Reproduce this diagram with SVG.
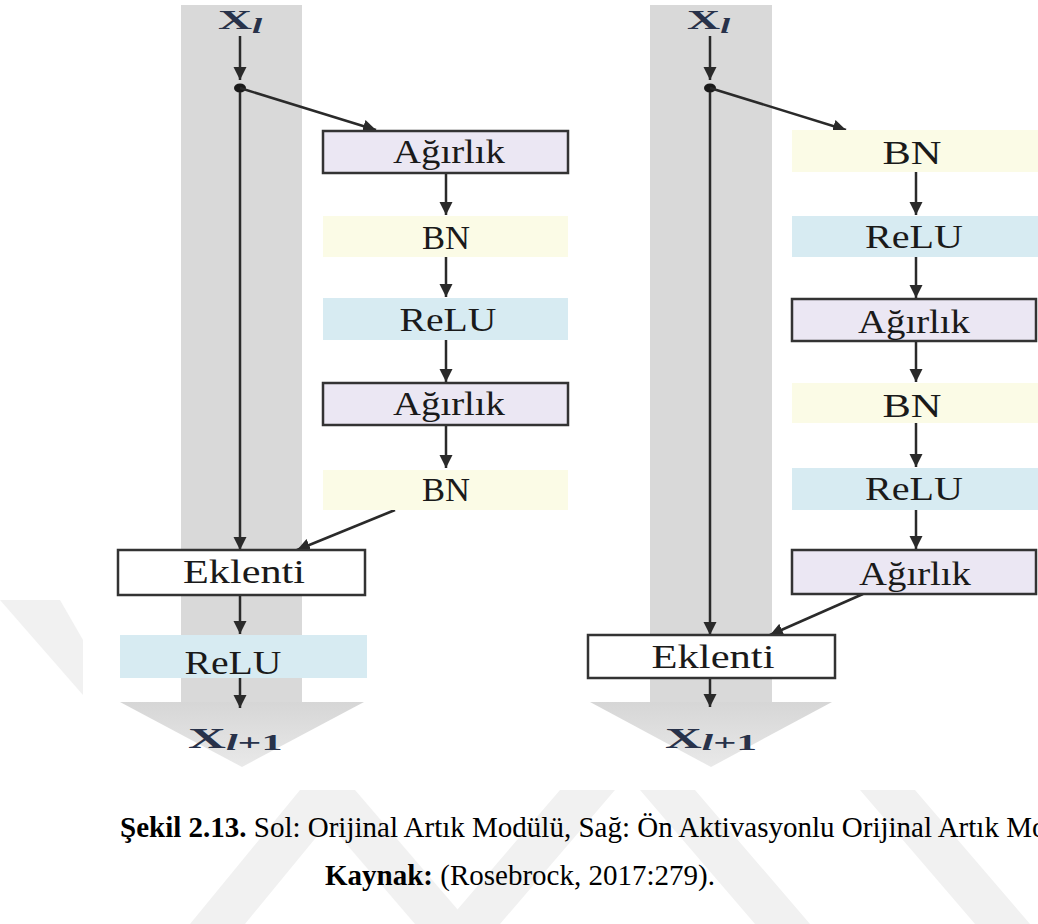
<svg xmlns="http://www.w3.org/2000/svg" width="1038" height="924" viewBox="0 0 1038 924">
<style>
.band{fill:#d9d9d9}
.wm{fill:#f1f1f1}
.w{fill:#ebe7f3;stroke:#333;stroke-width:2.5}
.bn{fill:#fbfbe6}
.re{fill:#d7ebf2}
.ek{fill:#ffffff;stroke:#333;stroke-width:2.5}
.lbl{font-family:"Liberation Serif","Times New Roman",serif;font-size:33px;fill:#1a1a1a;text-anchor:middle}
.con{stroke:#2a2a2a;stroke-width:2.5;fill:none}
.xl{font-family:"Liberation Serif","Times New Roman",serif;fill:#28324a}
.cap{font-family:"Liberation Serif","Times New Roman",serif;font-size:29px;fill:#000}
</style>
<defs>
<marker id="ah" markerUnits="userSpaceOnUse" markerWidth="14" markerHeight="14" refX="13" refY="7" orient="auto">
<path d="M0,0.5 L13,7 L0,13.5 z" fill="#2a2a2a"/>
</marker>
<linearGradient id="tri" x1="0" y1="0" x2="0" y2="1">
<stop offset="0" stop-color="#d6d6d6"/>
<stop offset="1" stop-color="#e9e9e9"/>
</linearGradient>
</defs>
<rect width="1038" height="924" fill="#ffffff"/>
<g id="watermark">
<polygon class="wm" points="0,600 60,600 83,640 83,695"/>
<polygon class="wm" points="190,924 245,924 355,790 300,790"/>
<polygon class="wm" points="300,790 355,790 470,924 415,924"/>
<polygon class="wm" points="560,790 615,790 500,924 445,924"/>
<polygon class="wm" points="640,790 695,790 810,924 755,924"/>
<polygon class="wm" points="860,790 915,790 1030,924 975,924"/>
</g>
<g id="bands">
<rect class="band" x="181" y="5" width="121" height="697"/>
<polygon points="120,702 364,702 242,767" fill="url(#tri)"/>
<rect class="band" x="650" y="5" width="122" height="697"/>
<polygon points="590,702 832,702 711,767" fill="url(#tri)"/>
</g>
<g id="connectors">
<line class="con" x1="240" y1="36" x2="240" y2="80" marker-end="url(#ah)"/>
<ellipse cx="240" cy="88" rx="6" ry="4.5" fill="#1a1a1a"/>
<line class="con" x1="240" y1="88" x2="376" y2="130" marker-end="url(#ah)"/>
<line class="con" x1="240" y1="92" x2="240" y2="550" marker-end="url(#ah)"/>
<line class="con" x1="446" y1="173" x2="446" y2="215" marker-end="url(#ah)"/>
<line class="con" x1="446" y1="257" x2="446" y2="297" marker-end="url(#ah)"/>
<line class="con" x1="446" y1="340" x2="446" y2="382" marker-end="url(#ah)"/>
<line class="con" x1="446" y1="425" x2="446" y2="468" marker-end="url(#ah)"/>
<line class="con" x1="395" y1="510" x2="297" y2="550" marker-end="url(#ah)"/>
<line class="con" x1="240" y1="595" x2="240" y2="634" marker-end="url(#ah)"/>
<line class="con" x1="240" y1="678" x2="240" y2="708" marker-end="url(#ah)"/>
<line class="con" x1="710" y1="36" x2="710" y2="80" marker-end="url(#ah)"/>
<ellipse cx="710" cy="88" rx="6" ry="4.5" fill="#1a1a1a"/>
<line class="con" x1="710" y1="88" x2="846" y2="130" marker-end="url(#ah)"/>
<line class="con" x1="710" y1="92" x2="710" y2="635" marker-end="url(#ah)"/>
<line class="con" x1="916" y1="172" x2="916" y2="215" marker-end="url(#ah)"/>
<line class="con" x1="916" y1="257" x2="916" y2="298" marker-end="url(#ah)"/>
<line class="con" x1="916" y1="341" x2="916" y2="382" marker-end="url(#ah)"/>
<line class="con" x1="916" y1="423" x2="916" y2="467" marker-end="url(#ah)"/>
<line class="con" x1="916" y1="510" x2="916" y2="549" marker-end="url(#ah)"/>
<line class="con" x1="863" y1="594" x2="770" y2="635" marker-end="url(#ah)"/>
<line class="con" x1="710" y1="678" x2="710" y2="707" marker-end="url(#ah)"/>
</g>
<g id="xl-left"><text class="xl" transform="translate(218,29) scale(1.75,1)"><tspan font-weight="bold" font-size="27">X</tspan><tspan font-weight="bold" font-style="italic" font-size="21" dy="4">l</tspan></text></g>
<g id="xl-right"><text class="xl" transform="translate(687,29) scale(1.7,1)"><tspan font-weight="bold" font-size="27">X</tspan><tspan font-weight="bold" font-style="italic" font-size="21" dy="4">l</tspan></text></g>
<g id="left-w1"><rect class="w" x="323" y="131" width="245" height="42"/><text class="lbl" x="449" y="163" textLength="112" lengthAdjust="spacingAndGlyphs">Ağırlık</text></g>
<g id="left-bn1"><rect class="bn" x="323" y="216" width="245" height="41"/><text class="lbl" x="446" y="249" textLength="48" lengthAdjust="spacingAndGlyphs">BN</text></g>
<g id="left-relu1"><rect class="re" x="323" y="298" width="245" height="42"/><text class="lbl" x="448" y="331" textLength="97" lengthAdjust="spacingAndGlyphs">ReLU</text></g>
<g id="left-w2"><rect class="w" x="323" y="383" width="245" height="42"/><text class="lbl" x="449" y="415" textLength="112" lengthAdjust="spacingAndGlyphs">Ağırlık</text></g>
<g id="left-bn2"><rect class="bn" x="323" y="470" width="245" height="40"/><text class="lbl" x="446" y="501" textLength="48" lengthAdjust="spacingAndGlyphs">BN</text></g>
<g id="left-eklenti"><rect class="ek" x="118" y="550" width="247" height="45"/><text class="lbl" x="244" y="583" textLength="122" lengthAdjust="spacingAndGlyphs">Eklenti</text></g>
<g id="left-relu2"><rect class="re" x="120" y="635" width="247" height="43"/><text class="lbl" x="233" y="674" textLength="97" lengthAdjust="spacingAndGlyphs">ReLU</text></g>
<g id="xl1-left"><text class="xl" transform="translate(188,748) scale(1.75,1)"><tspan font-weight="bold" font-size="30">X</tspan><tspan font-weight="bold" font-style="italic" font-size="24" dy="2">l</tspan><tspan font-weight="bold" font-size="24">+1</tspan></text></g>
<g id="right-bn1"><rect class="bn" x="792" y="130" width="246" height="42"/><text class="lbl" x="912" y="164" textLength="59" lengthAdjust="spacingAndGlyphs">BN</text></g>
<g id="right-relu1"><rect class="re" x="792" y="216" width="246" height="41"/><text class="lbl" x="914" y="248" textLength="98" lengthAdjust="spacingAndGlyphs">ReLU</text></g>
<g id="right-w1"><rect class="w" x="792" y="299" width="244" height="42"/><text class="lbl" x="914" y="333" textLength="112" lengthAdjust="spacingAndGlyphs">Ağırlık</text></g>
<g id="right-bn2"><rect class="bn" x="792" y="383" width="246" height="40"/><text class="lbl" x="912" y="417" textLength="59" lengthAdjust="spacingAndGlyphs">BN</text></g>
<g id="right-relu2"><rect class="re" x="792" y="468" width="246" height="42"/><text class="lbl" x="914" y="500" textLength="98" lengthAdjust="spacingAndGlyphs">ReLU</text></g>
<g id="right-w2"><rect class="w" x="792" y="550" width="244" height="44"/><text class="lbl" x="915" y="585" textLength="112" lengthAdjust="spacingAndGlyphs">Ağırlık</text></g>
<g id="right-eklenti"><rect class="ek" x="588" y="635" width="247" height="43"/><text class="lbl" x="713" y="668" textLength="123" lengthAdjust="spacingAndGlyphs">Eklenti</text></g>
<g id="xl1-right"><text class="xl" transform="translate(665,748) scale(1.7,1)"><tspan font-weight="bold" font-size="30">X</tspan><tspan font-weight="bold" font-style="italic" font-size="24" dy="2">l</tspan><tspan font-weight="bold" font-size="24">+1</tspan></text></g>
<g id="caption">
<text class="cap" x="120" y="837"><tspan font-weight="bold">Şekil 2.13.</tspan> Sol: Orijinal Artık Modülü, Sağ: Ön Aktivasyonlu Orijinal Artık Modülü</text>
<text class="cap" x="325" y="885"><tspan font-weight="bold">Kaynak:</tspan> (Rosebrock, 2017:279).</text>
</g>
</svg>
